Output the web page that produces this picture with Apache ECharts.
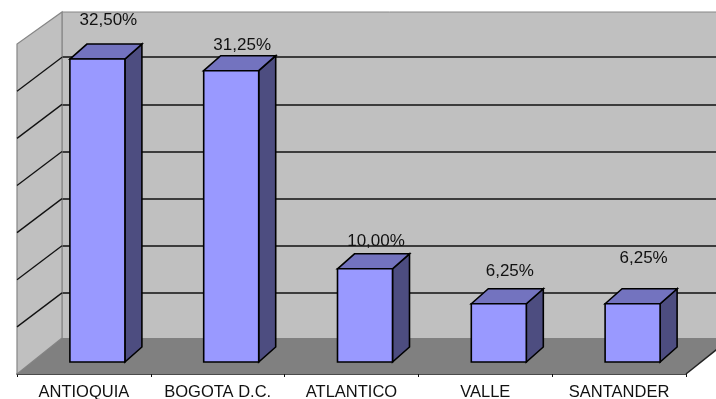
<!DOCTYPE html>
<html>
<head>
<meta charset="utf-8">
<script src="https://cdn.jsdelivr.net/npm/echarts@6/dist/echarts.min.js"></script>
<style>
  html, body { margin: 0; padding: 0; background: #fff; }
  #chart { width: 716px; height: 399px; filter: blur(0.4px); }
</style>
</head>
<body>
<div id="chart"></div>
<script>
const categories = ['ANTIOQUIA', 'BOGOTA D.C.', 'ATLANTICO', 'VALLE', 'SANTANDER']
const shares = [32.5, 31.25, 10, 6.25, 6.25]
const wallTicks = [5, 10, 15, 20, 25, 30]

// label height above the bar's front top edge, it is not regular in the original
const labelLift = [39, 25, 27, 32, 45]

// offsets of the fake 3D, in pixels
const wallDx = 45
const wallDyTop = -32
const wallDyBottom = -36
const wallTickDrop = 34
const barDx = 13.5
const barDy = -12
const barWidth = 55
const barDepthX = 17
const barDepthY = -15

const wallColor = '#c0c0c0'
const wallBorder = '#868686'
const fontFamily = '"Liberation Sans", Arial, sans-serif'

const formatShare = v => v.toFixed(2).replace('.', ',') + '%'

const poly = (points, fill, stroke, lineWidth) => ({
  type: 'polygon',
  shape: { points },
  style: { fill, stroke, lineWidth },
})

const line = (a, b, stroke, lineWidth) => ({
  type: 'line',
  shape: { x1: a[0], y1: a[1], x2: b[0], y2: b[1] },
  style: { stroke, lineWidth },
})

// left wall and floor, built from the front edge of the floor
function renderFloor(params) {
  const c = params.coordSys
  const top = c.y
  const bottom = c.y + c.height
  const left = c.x
  const right = c.x + c.width
  return {
    type: 'group',
    children: [
      poly(
        [[left, top], [left, bottom], [left + wallDx, bottom + wallDyBottom], [left + wallDx, top + wallDyTop]],
        wallColor, wallBorder, 1.2
      ),
      poly(
        [[left, bottom], [right, bottom], [right + wallDx, bottom + wallDyBottom], [left + wallDx, bottom + wallDyBottom]],
        '#808080', null, 0
      ),
      line([right, bottom], [right + wallDx, bottom + wallDyBottom], '#222', 1.5),
    ],
  }
}

function renderWallTick(params, api) {
  const y = api.coord([0, api.value(1)])[1]
  const x = params.coordSys.x
  return line([x, y], [x - wallDx, y + wallTickDrop], '#111', 1.3)
}

function renderBar(params, api) {
  const i = api.value(0)
  const base = api.coord([i, 0])
  const head = api.coord([i, api.value(1)])
  const x0 = base[0] + barDx - barWidth / 2
  const x1 = x0 + barWidth
  const yTop = head[1] + barDy
  const yBottom = base[1] + barDy
  const stroke = '#000'
  const lineWidth = 1.6
  return {
    type: 'group',
    children: [
      poly(
        [[x1, yTop], [x1 + barDepthX, yTop + barDepthY], [x1 + barDepthX, yBottom + barDepthY], [x1, yBottom]],
        '#4d4d80', stroke, lineWidth
      ),
      poly(
        [[x0, yTop], [x0 + barDepthX, yTop + barDepthY], [x1 + barDepthX, yTop + barDepthY], [x1, yTop]],
        '#7373bf', stroke, lineWidth
      ),
      poly(
        [[x0, yTop], [x1, yTop], [x1, yBottom], [x0, yBottom]],
        '#9999ff', stroke, lineWidth
      ),
      {
        type: 'text',
        style: {
          text: formatShare(api.value(1)),
          x: (x0 + x1) / 2 + 11,
          y: yTop - labelLift[i],
          align: 'center',
          verticalAlign: 'middle',
          fill: '#111',
          font: '17px ' + fontFamily,
        },
      },
    ],
  }
}

const chart = echarts.init(document.getElementById('chart'), null, { renderer: 'canvas' })

chart.setOption({
  animation: false,
  backgroundColor: '#fff',
  grid: [
    // front edge of the floor, carries the category axis and the bars
    { left: 17, top: 44, width: 669, height: 330, show: false, outerBoundsMode: 'none' },
    // back wall
    {
      left: 62, top: 12, width: 669, height: 328, outerBoundsMode: 'none',
      show: true, backgroundColor: wallColor, borderColor: wallBorder, borderWidth: 1,
    },
  ],
  xAxis: [
    {
      type: 'category',
      gridIndex: 0,
      data: categories,
      axisLine: { lineStyle: { color: '#111', width: 1.5 } },
      axisTick: { show: true, length: 3, lineStyle: { color: '#111' } },
      axisLabel: { color: '#111', fontSize: 16.5, fontFamily, margin: 10, interval: 0 },
    },
    {
      type: 'category',
      gridIndex: 1,
      data: categories,
      axisLine: { show: false },
      axisTick: { show: false },
      axisLabel: { show: false },
    },
  ],
  yAxis: [
    {
      type: 'value', gridIndex: 0, min: 0, max: 35.4,
      axisLine: { show: false }, axisTick: { show: false }, axisLabel: { show: false }, splitLine: { show: false },
    },
    {
      type: 'value', gridIndex: 1, min: 0, max: 34.8, interval: 5,
      axisLine: { show: false }, axisTick: { show: false }, axisLabel: { show: false },
      splitLine: { show: true, showMinLine: false, showMaxLine: false, lineStyle: { color: '#111', width: 1.5 } },
    },
  ],
  series: [
    {
      type: 'custom',
      xAxisIndex: 0,
      yAxisIndex: 0,
      z: 1,
      clip: false,
      silent: true,
      renderItem: renderFloor,
      data: [[0, 0]],
    },
    {
      type: 'custom',
      xAxisIndex: 1,
      yAxisIndex: 1,
      z: 1.5,
      clip: false,
      silent: true,
      renderItem: renderWallTick,
      data: wallTicks.map(t => [0, t]),
    },
    {
      type: 'custom',
      xAxisIndex: 0,
      yAxisIndex: 0,
      z: 2,
      clip: false,
      renderItem: renderBar,
      encode: { x: 0, y: 1 },
      data: shares.map((v, i) => [i, v]),
    },
  ],
})
</script>
</body>
</html>
